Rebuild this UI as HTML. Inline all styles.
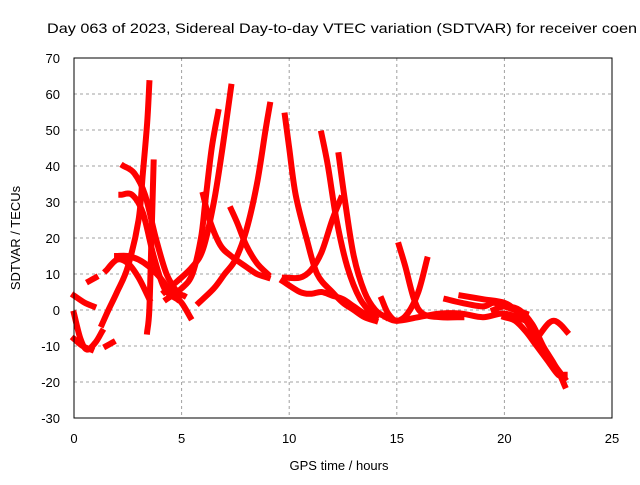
<!DOCTYPE html>
<html><head><meta charset="utf-8"><style>
body{margin:0;background:#fff;}
svg text{font-family:"Liberation Sans",sans-serif;font-size:13px;fill:#000;}
</style></head><body>
<svg id="chart" width="640" height="480" xmlns="http://www.w3.org/2000/svg">
<rect width="640" height="480" fill="#fff"/>
<text x="47" y="33" textLength="590" lengthAdjust="spacingAndGlyphs" style="font-size:14px">Day 063 of 2023, Sidereal Day-to-day VTEC variation (SDTVAR) for receiver coen</text>
<g id="grid"></g>
<g id="series"></g>
<rect x="74" y="58" width="538" height="360" fill="none" stroke="#000" stroke-width="1"/>
<g id="ticks"></g>
<text x="339" y="470" text-anchor="middle">GPS time / hours</text>
<text transform="translate(20,238) rotate(-90)" text-anchor="middle">SDTVAR / TECUs</text>
</svg>
<script>
const xTicks=[0,5,10,15,20,25];
const yTicks=[-30,-20,-10,0,10,20,30,40,50,60,70];
const t1=[[0,4],[0.5,2],[0.9,1]];
const t2=[[0,-1],[0.3,-8],[0.6,-11],[1,-9],[1.3,-6]];
const t3=[[0,-8],[0.4,-10],[0.8,-11]];
const t4=[[0.7,8],[1,9]];
const t5=[[1.5,-10],[1.8,-9]];
const t6=[[1.3,-4],[1.6,0],[2,5],[2.5,12],[3,25],[3.2,38],[3.4,52],[3.5,63]];
const t7=[[3.4,-6],[3.5,0],[3.6,20],[3.7,41]];
const t8=[[2.3,40],[2.8,38],[3.3,32],[3.8,20],[4.3,10],[4.8,5],[5.1,4]];
const t9=[[2.2,32],[2.7,32],[3.2,27],[3.7,15],[4.2,6],[4.8,3]];
const t10=[[2,15],[2.5,15],[3,14],[3.5,12],[4,9],[4.5,5],[5,2],[5.4,-2]];
const t11=[[1.5,11],[2,14],[2.5,13],[3,9],[3.5,3]];
const t12=[[4.3,3],[5,6],[5.5,10],[5.9,20],[6.1,30],[6.4,45],[6.7,55]];
const t13=[[4.2,5],[4.8,8],[5.5,12],[6,17],[6.5,30],[6.9,45],[7.3,62]];
const t14=[[5.8,2],[6.5,6],[7,10],[7.5,14],[8,22],[8.5,35],[8.9,50],[9.1,57]];
const t15=[[6,32],[6.3,25],[6.8,18],[7.3,15],[8,12],[8.5,10],[9,9]];
const t16=[[7.3,28],[7.6,24],[8,18],[8.5,13],[9,10]];
const t17=[[9.8,54],[10,45],[10.3,32],[10.8,20],[11.3,10],[12,5],[12.5,2],[13,0],[13.5,-2],[14,-3]];
const t18=[[11.5,49],[11.8,40],[12.2,25],[12.7,12],[13.3,3],[14,-2]];
const t19=[[12.3,43],[12.6,30],[13,15],[13.5,5],[14,0],[14.5,-2]];
const t20=[[9.7,8],[10.5,5],[11,4.5],[11.5,5],[12,4],[12.5,3],[13,1],[13.5,-1],[14,-2]];
const t21=[[9.8,9],[10.5,9],[11,11],[11.5,16],[12,25],[12.4,31]];
const t22=[[14.3,3],[14.6,-1],[15,-3],[15.5,-1],[16,5],[16.4,14]];
const t23=[[15.1,18],[15.4,12],[15.8,3],[16.2,-1],[17,-2],[18,-2]];
const t24=[[14.5,-2],[15,-3],[16,-2],[17,-1],[18,-1],[19,-2],[20,-1],[21,-3]];
const t25=[[17.3,3],[18,2],[19,1],[19.5,2],[20,1],[21,-1]];
const t26=[[18,4],[19,3],[20,2],[20.5,0],[21,-3],[21.5,-8],[22,-12],[22.5,-17],[22.8,-21]];
const t27=[[19.5,0],[20,1],[20.7,0],[21.3,-4],[21.8,-10],[22.3,-15],[22.8,-19]];
const t28=[[21.5,-8],[22,-4],[22.3,-3],[22.6,-4],[22.9,-6]];
const t29=[[20,-2],[20.5,-3],[21,-6],[21.5,-10],[22,-14],[22.5,-18],[22.8,-18]];
const traces=[t1,t2,t3,t4,t5,t6,t7,t8,t9,t10,t11,t12,t13,t14,t15,t16,t17,t18,t19,t20,t21,t22,t23,t24,t25,t26,t27,t28,t29];
const NS="http://www.w3.org/2000/svg";
const X=v=>74+v*538/25, Y=v=>58+(70-v)*3.6;
const grid=document.getElementById('grid'),ticks=document.getElementById('ticks'),ser=document.getElementById('series');
function mk(tag,attrs,parent){const e=document.createElementNS(NS,tag);for(const k in attrs)e.setAttribute(k,attrs[k]);parent.appendChild(e);return e;}
function smooth(pts){
 let d='M'+pts[0][0]+','+pts[0][1];
 for(let i=0;i<pts.length-1;i++){
  const p0=pts[Math.max(i-1,0)],p1=pts[i],p2=pts[i+1],p3=pts[Math.min(i+2,pts.length-1)];
  const c1=[p1[0]+(p2[0]-p0[0])/6,p1[1]+(p2[1]-p0[1])/6];
  const c2=[p2[0]-(p3[0]-p1[0])/6,p2[1]-(p3[1]-p1[1])/6];
  d+=' C'+c1[0]+','+c1[1]+' '+c2[0]+','+c2[1]+' '+p2[0]+','+p2[1];
 }
 return d;
}
xTicks.forEach(t=>{
 if(t>0&&t<25){const g=mk('line',{x1:X(t),x2:X(t),y1:58,y2:418,stroke:'#a0a0a0','stroke-dasharray':'3,3'},grid);
 
 }
 const l=mk('text',{x:X(t),y:443,'text-anchor':'middle'},ticks);l.textContent=t;
 
 
});
yTicks.forEach(t=>{
 if(t>-30&&t<70){const g=mk('line',{x1:74,x2:612,y1:Y(t),y2:Y(t),stroke:'#a0a0a0','stroke-dasharray':'3,3'},grid);
 
 }
 const l=mk('text',{x:60,y:Y(t)+5,'text-anchor':'end'},ticks);l.textContent=t;
 
 
});
traces.forEach(tr=>{
 const p=mk('path',{d:smooth(tr.map(d=>[X(d[0]),Y(d[1])])),fill:'none',stroke:'#ff0000','stroke-width':6,'stroke-linejoin':'round','stroke-linecap':'square'},ser);
 
 
});
</script>
</body></html>
